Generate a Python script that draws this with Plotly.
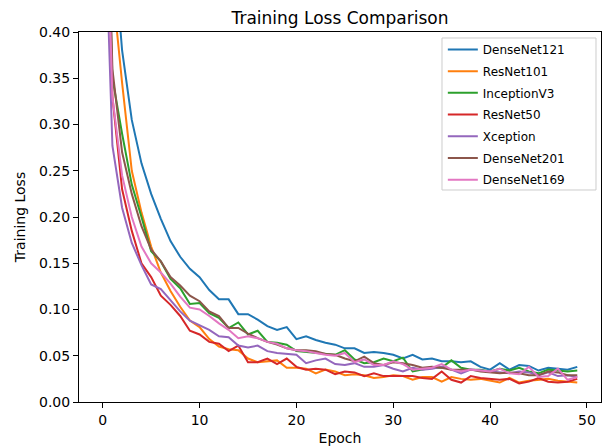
import plotly.graph_objects as go

epochs = list(range(50))

densenet121 = [0.95, 0.51, 0.38, 0.305, 0.258, 0.225, 0.198, 0.174, 0.157, 0.144,
               0.135, 0.121, 0.111, 0.111, 0.095, 0.095, 0.089, 0.082, 0.078, 0.081,
               0.068, 0.071, 0.067, 0.064, 0.062, 0.058, 0.058, 0.053, 0.054, 0.053,
               0.051, 0.047, 0.051, 0.046, 0.047, 0.044, 0.044, 0.043, 0.044, 0.038,
               0.035, 0.042, 0.035, 0.040, 0.039, 0.034, 0.037, 0.036, 0.035, 0.038]
resnet101 = [0.85, 0.45, 0.345, 0.25, 0.205, 0.168, 0.14, 0.12, 0.103, 0.088,
             0.081, 0.068, 0.060, 0.057, 0.056, 0.047, 0.043, 0.044, 0.045, 0.037,
             0.037, 0.036, 0.031, 0.035, 0.033, 0.029, 0.030, 0.029, 0.026, 0.027,
             0.029, 0.028, 0.024, 0.027, 0.027, 0.022, 0.027, 0.025, 0.024, 0.025,
             0.023, 0.021, 0.026, 0.021, 0.023, 0.024, 0.025, 0.023, 0.022, 0.021]
inceptionv3 = [0.70, 0.35, 0.29, 0.235, 0.20, 0.163, 0.152, 0.133, 0.123, 0.106,
               0.107, 0.096, 0.091, 0.080, 0.086, 0.073, 0.077, 0.065, 0.064, 0.062,
               0.055, 0.054, 0.053, 0.052, 0.051, 0.056, 0.046, 0.042, 0.043, 0.047,
               0.044, 0.048, 0.033, 0.035, 0.037, 0.037, 0.045, 0.037, 0.035, 0.035,
               0.033, 0.036, 0.034, 0.037, 0.033, 0.031, 0.035, 0.034, 0.033, 0.034]
resnet50 = [0.75, 0.33, 0.23, 0.185, 0.15, 0.135, 0.115, 0.105, 0.093, 0.077,
            0.073, 0.065, 0.063, 0.055, 0.061, 0.043, 0.043, 0.047, 0.041, 0.047,
            0.038, 0.035, 0.036, 0.035, 0.030, 0.033, 0.032, 0.028, 0.031, 0.028,
            0.028, 0.028, 0.028, 0.026, 0.025, 0.033, 0.024, 0.021, 0.028, 0.026,
            0.025, 0.024, 0.025, 0.020, 0.022, 0.026, 0.022, 0.021, 0.022, 0.025]
xception = [0.60, 0.277, 0.21, 0.172, 0.148, 0.127, 0.122, 0.110, 0.098, 0.088,
            0.083, 0.078, 0.071, 0.070, 0.061, 0.059, 0.061, 0.055, 0.053, 0.052,
            0.051, 0.042, 0.045, 0.047, 0.041, 0.040, 0.042, 0.038, 0.038, 0.040,
            0.036, 0.033, 0.037, 0.035, 0.036, 0.038, 0.035, 0.031, 0.035, 0.034,
            0.033, 0.032, 0.031, 0.033, 0.032, 0.029, 0.032, 0.028, 0.029, 0.027]
densenet201 = [0.75, 0.36, 0.27, 0.225, 0.19, 0.165, 0.152, 0.135, 0.126, 0.115,
               0.109, 0.098, 0.093, 0.080, 0.080, 0.074, 0.069, 0.065, 0.062, 0.058,
               0.056, 0.056, 0.055, 0.052, 0.051, 0.047, 0.044, 0.049, 0.042, 0.040,
               0.043, 0.042, 0.040, 0.037, 0.038, 0.037, 0.035, 0.035, 0.035, 0.033,
               0.032, 0.031, 0.032, 0.031, 0.029, 0.029, 0.033, 0.032, 0.029, 0.029]
densenet169 = [0.68, 0.33, 0.245, 0.20, 0.168, 0.150, 0.140, 0.128, 0.114, 0.102,
               0.100, 0.093, 0.085, 0.078, 0.069, 0.071, 0.069, 0.065, 0.063, 0.058,
               0.056, 0.055, 0.053, 0.051, 0.050, 0.053, 0.043, 0.046, 0.040, 0.040,
               0.044, 0.041, 0.035, 0.036, 0.037, 0.041, 0.035, 0.033, 0.035, 0.034,
               0.033, 0.036, 0.031, 0.030, 0.038, 0.027, 0.028, 0.036, 0.024, 0.027]

series_names = ["DenseNet121", "ResNet101", "InceptionV3", "ResNet50",
                "Xception", "DenseNet201", "DenseNet169"]
series_values = [densenet121, resnet101, inceptionv3, resnet50,
                 xception, densenet201, densenet169]
colors = ["#1f77b4", "#ff7f0e", "#2ca02c", "#d62728",
          "#9467bd", "#8c564b", "#e377c2"]

x_ticks = [0, 10, 20, 30, 40, 50]
y_ticks = [0.00, 0.05, 0.10, 0.15, 0.20, 0.25, 0.30, 0.35, 0.40]

fig = go.Figure()
for name, vals, c in zip(series_names, series_values, colors):
    fig.add_trace(go.Scatter(x=epochs, y=vals, mode="lines", name=name,
                             legendgroup=name,
                             line=dict(color=c, width=2)))

# legend frame (matplotlib-style box) drawn behind the legend entries
fig.add_shape(type="rect", xref="paper", yref="paper",
              x0=0.6954, x1=0.9904, y0=0.573, y1=0.9838,
              line=dict(color="#cccccc", width=1),
              fillcolor="rgba(255,255,255,0.85)", layer="above")

font_family = "DejaVu Sans"
fig.update_layout(
    width=605, height=446,
    margin=dict(l=79, r=4, t=32, b=44, autoexpand=False),
    paper_bgcolor="white", plot_bgcolor="white",
    font=dict(family=font_family, size=14, color="black"),
    title=dict(text="Training Loss Comparison", x=0.5, xref="paper",
               y=1 - 18 / 446, yref="container", yanchor="middle", xanchor="center",
               font=dict(size=17, family=font_family, color="black")),
    showlegend=True,
    legend=dict(x=0.697, y=0.992, xanchor="left", yanchor="top",
                bgcolor="rgba(0,0,0,0)", borderwidth=0,
                font=dict(size=12, family=font_family), tracegroupgap=2.7,
                itemwidth=30),
)
fig.update_xaxes(range=[-2.45, 51.45], tickvals=x_ticks, ticks="outside", ticklen=5,
                 tickcolor="black", showline=True, linecolor="black", linewidth=1,
                 mirror=True, showgrid=False, zeroline=False, automargin=False,
                 title=dict(text="Epoch", font=dict(size=14), standoff=6),
                 tickfont=dict(size=14))
fig.update_yaxes(range=[0, 0.4], tickvals=y_ticks, tickformat=".2f", ticks="outside",
                 ticklen=5, tickcolor="black", showline=True, linecolor="black",
                 linewidth=1, mirror=True, showgrid=False, zeroline=False,
                 automargin=False,
                 title=dict(text="Training Loss", font=dict(size=14), standoff=10),
                 tickfont=dict(size=14))

fig.write_html("out.html", config={"displayModeBar": False})

with open("out.html", "r", encoding="utf-8") as f:
    html = f.read()
html = html.replace("<body>", '<body style="margin:0;padding:0;">', 1)
with open("out.html", "w", encoding="utf-8") as f:
    f.write(html)
